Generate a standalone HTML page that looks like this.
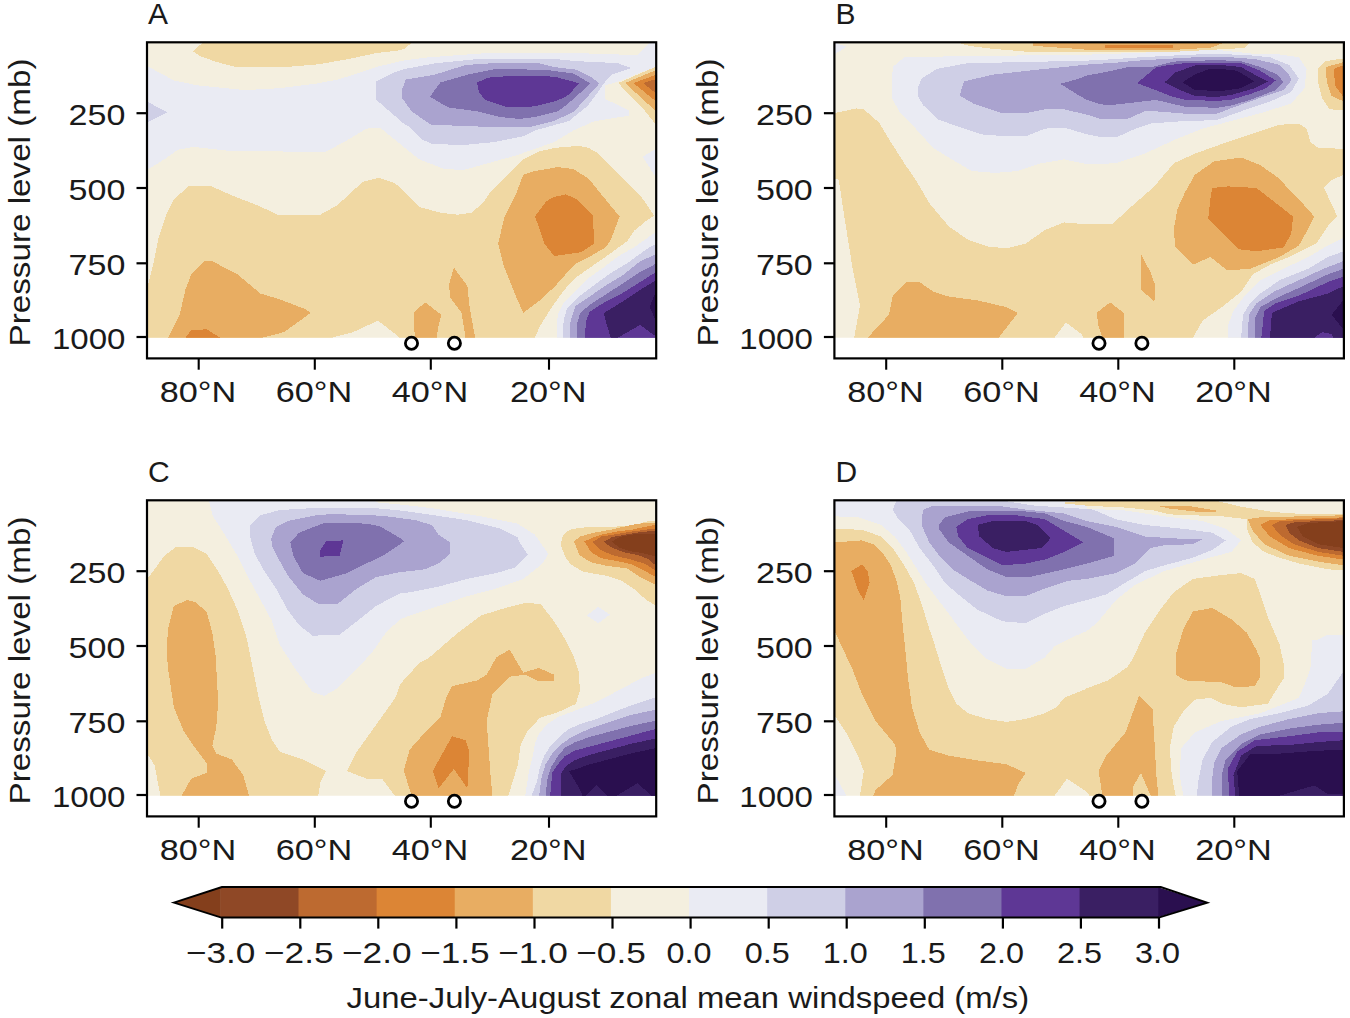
<!DOCTYPE html><html><head><meta charset="utf-8"><style>html,body{margin:0;padding:0;background:#fff;overflow:hidden}svg{display:block}svg text{font-family:"Liberation Sans",sans-serif}</style></head><body>
<svg width="1350" height="1018" viewBox="0 0 1350 1018">
<rect width="1350" height="1018" fill="#ffffff"/>
<clipPath id="cA"><rect x="147.0" y="42.3" width="509.2" height="295.4"/></clipPath>
<g clip-path="url(#cA)" shape-rendering="crispEdges">
<rect x="147.0" y="42.3" width="509.2" height="295.4" fill="#f4efdf"/>
<polygon fill="#eaebf3" points="147.0,66.0 173.9,80.4 197.0,85.3 245.2,90.1 279.8,88.2 318.3,83.3 337.6,79.5 356.9,73.7 376.1,67.0 405.0,60.2 428.9,57.3 480.9,53.5 563.7,52.5 597.1,53.8 637.0,55.1 645.0,48.0 650.0,42.3 656.2,42.3 656.2,67.5 642.5,71.6 619.1,81.3 605.4,85.4 605.4,99.1 628.8,110.2 628.8,115.7 594.4,121.2 573.3,130.5 554.1,142.1 515.6,155.6 480.9,165.2 463.6,170.0 444.3,169.0 419.3,159.4 405.0,147.9 395.4,140.2 380.0,127.6 366.5,128.6 347.2,140.2 326.0,151.7 295.2,151.7 227.8,150.7 193.2,146.9 177.7,149.8 164.3,159.4 147.0,170.0"/>
<polygon fill="#eaebf3" points="656.2,148.7 642.5,156.9 656.2,177.6"/>
<polygon fill="#cfcfe6" points="147.0,101.6 167.1,112.2 147.0,122.8"/>
<polygon fill="#cfcfe6" points="376.1,81.4 393.5,72.7 405.0,68.9 436.6,63.1 475.1,59.3 557.9,59.3 577.2,61.2 617.6,63.1 631.5,68.2 624.6,70.3 612.3,74.4 605.4,81.3 595.8,95.0 587.5,106.0 573.8,117.0 569.5,120.9 534.8,130.5 523.3,136.3 494.4,142.1 463.6,145.0 432.7,144.0 421.2,139.2 409.6,126.7 405.0,124.7 376.1,99.7"/>
<polygon fill="#aaa3cf" points="401.9,90.1 405.8,79.5 434.7,74.7 465.5,65.0 494.4,63.1 538.7,63.1 554.1,67.0 577.0,69.8 590.0,76.4 599.5,83.3 589.0,95.0 573.5,112.0 554.1,120.9 531.0,126.7 482.8,126.7 430.8,124.7 411.6,111.3 401.9,97.8"/>
<polygon fill="#8071ae" points="429.9,96.8 440.4,82.4 467.4,74.7 496.3,68.9 546.4,69.9 573.3,73.5 590.3,83.3 577.9,95.0 566.9,104.6 557.9,111.3 534.8,117.0 519.4,119.0 500.2,117.0 477.0,111.3 448.2,107.4"/>
<polygon fill="#5e3795" points="477.0,82.4 488.6,77.6 515.6,75.6 554.1,76.6 579.3,83.3 568.3,95.0 563.7,97.8 554.1,101.6 534.8,106.4 507.9,107.4 484.7,99.7 479.0,92.0"/>
<polygon fill="#f0d8a3" points="656.2,66.5 618.9,82.7 618.9,83.4 623.8,89.6 630.6,96.5 637.5,102.6 644.4,110.2 651.3,119.1 656.2,124.5"/>
<polygon fill="#e8ad62" points="656.2,70.0 625.1,83.0 656.2,111.5"/>
<polygon fill="#dc8535" points="656.2,74.8 633.4,83.0 656.2,101.6"/>
<polygon fill="#bd6a30" points="656.2,79.0 643.0,83.0 656.2,93.5"/>
<polygon fill="#f0d8a3" points="202.8,42.3 412.0,42.3 405.0,48.7 397.3,50.6 376.1,53.1 347.2,59.3 335.7,61.2 320.3,64.1 291.4,66.6 234.6,66.6 224.0,64.1 214.3,61.2 200.9,56.4 193.2,51.6"/>
<polygon fill="#f0d8a3" points="147.0,289.0 152.7,266.7 158.5,237.8 166.2,214.7 173.9,199.3 189.3,185.8 210.5,185.8 231.7,195.4 256.7,205.0 277.9,214.7 320.3,214.7 337.6,205.0 362.6,181.9 379.0,177.7 395.4,183.5 405.0,192.2 419.3,207.0 440.4,212.7 457.8,214.7 471.3,212.7 482.8,203.1 490.5,191.6 507.9,174.8 523.3,159.4 538.7,151.7 554.1,147.9 579.1,145.9 588.7,147.9 598.4,153.6 611.9,167.1 627.3,182.5 640.8,196.0 654.2,215.6 647.3,220.0 634.3,230.6 627.2,241.2 606.0,256.5 587.2,269.5 575.4,277.8 563.6,290.7 551.8,307.2 540.0,326.1 534.8,337.7 399.2,337.7 395.4,334.1 378.0,320.6 353.0,332.2 331.8,337.7 147.0,337.7"/>
<polygon fill="#e8ad62" points="515.6,195.0 523.3,174.8 534.8,171.0 557.9,167.1 573.3,169.0 588.7,178.7 602.2,195.4 619.6,216.6 610.7,240.0 606.0,247.1 591.9,255.4 575.4,263.6 563.6,276.6 555.3,286.0 540.0,300.2 523.3,312.9 515.6,295.6 504.0,266.7 498.2,243.6 504.0,218.5"/>
<polygon fill="#dc8535" points="534.8,216.6 546.4,201.2 554.1,197.0 565.6,194.4 577.2,199.3 592.6,214.7 594.5,243.6 581.0,252.2 554.1,256.1 544.5,243.6 538.7,226.2"/>
<polygon fill="#e8ad62" points="168.1,337.7 179.7,314.8 185.4,289.8 191.2,274.4 204.7,260.9 212.4,260.9 225.9,268.6 237.4,274.4 260.6,293.6 279.8,299.4 304.9,309.0 310.6,312.9 302.9,318.7 283.7,332.2 262.5,337.7"/>
<polygon fill="#dc8535" points="185.4,337.7 191.2,330.2 206.6,329.3 220.1,337.7"/>
<polygon fill="#e8ad62" points="413.5,312.9 425.0,302.3 441.4,314.8 438.5,326.4 436.6,337.7 415.4,337.7 413.5,326.4"/>
<polygon fill="#e8ad62" points="453.9,267.6 467.4,285.9 469.3,305.2 475.1,337.7 465.5,337.7 461.6,312.9 450.1,297.5 449.1,284.0"/>
<polygon fill="#eaebf3" points="656.2,231.8 646.1,238.9 634.3,247.1 617.8,256.5 602.5,268.3 587.2,278.9 575.4,290.7 563.6,302.5 557.7,314.3 556.5,337.7 656.2,337.7"/>
<polygon fill="#cfcfe6" points="656.2,243.6 646.1,249.5 628.4,262.4 610.7,273.0 593.0,286.0 578.9,296.6 567.1,308.4 563.6,320.2 563.0,337.7 656.2,337.7"/>
<polygon fill="#aaa3cf" points="656.2,254.2 640.2,261.3 622.5,275.4 604.8,286.0 589.5,296.6 575.4,306.1 570.6,320.2 569.5,337.7 656.2,337.7"/>
<polygon fill="#8071ae" points="656.2,263.6 640.2,271.9 622.5,283.7 606.0,294.3 589.5,304.9 580.1,313.1 576.5,326.1 576.5,337.7 656.2,337.7"/>
<polygon fill="#5e3795" points="656.2,271.9 641.4,281.3 622.5,293.1 606.0,301.3 589.5,311.9 586.0,321.4 584.8,337.7 656.2,337.7"/>
<polygon fill="#3a1f63" points="656.2,280.1 642.6,288.4 624.9,300.2 603.7,313.1 607.2,326.1 610.7,337.7 617.8,337.7 640.2,324.9 656.2,336.7"/>
<polygon fill="#2a0f4f" points="656.2,290.7 649.6,307.2 656.2,321.4"/>
</g>
<circle cx="411.5" cy="343.2" r="6.1" fill="none" stroke="#000" stroke-width="2.8"/>
<circle cx="454.4" cy="343.2" r="6.1" fill="none" stroke="#000" stroke-width="2.8"/>
<rect x="147.0" y="42.3" width="509.2" height="316.1" fill="none" stroke="#000" stroke-width="2.2"/>
<line x1="136.5" y1="113.2" x2="147.0" y2="113.2" stroke="#000" stroke-width="2.2"/>
<text x="125.4" y="125.1" text-anchor="end" font-size="30"  fill="#1a1a1a" textLength="56.8" lengthAdjust="spacingAndGlyphs">250</text>
<line x1="136.5" y1="188.0" x2="147.0" y2="188.0" stroke="#000" stroke-width="2.2"/>
<text x="125.4" y="199.9" text-anchor="end" font-size="30"  fill="#1a1a1a" textLength="56.8" lengthAdjust="spacingAndGlyphs">500</text>
<line x1="136.5" y1="263.3" x2="147.0" y2="263.3" stroke="#000" stroke-width="2.2"/>
<text x="125.4" y="275.2" text-anchor="end" font-size="30"  fill="#1a1a1a" textLength="56.8" lengthAdjust="spacingAndGlyphs">750</text>
<line x1="136.5" y1="337.0" x2="147.0" y2="337.0" stroke="#000" stroke-width="2.2"/>
<text x="125.4" y="348.9" text-anchor="end" font-size="30"  fill="#1a1a1a" textLength="73.5" lengthAdjust="spacingAndGlyphs">1000</text>
<line x1="198.7" y1="358.4" x2="198.7" y2="369.7" stroke="#000" stroke-width="2.1"/>
<text x="197.9" y="402.2" text-anchor="middle" font-size="30"  fill="#1a1a1a" textLength="76.5" lengthAdjust="spacingAndGlyphs">80°N</text>
<line x1="314.8" y1="358.4" x2="314.8" y2="369.7" stroke="#000" stroke-width="2.1"/>
<text x="314.0" y="402.2" text-anchor="middle" font-size="30"  fill="#1a1a1a" textLength="76.5" lengthAdjust="spacingAndGlyphs">60°N</text>
<line x1="430.8" y1="358.4" x2="430.8" y2="369.7" stroke="#000" stroke-width="2.1"/>
<text x="430.0" y="402.2" text-anchor="middle" font-size="30"  fill="#1a1a1a" textLength="76.5" lengthAdjust="spacingAndGlyphs">40°N</text>
<line x1="549.0" y1="358.4" x2="549.0" y2="369.7" stroke="#000" stroke-width="2.1"/>
<text x="548.2" y="402.2" text-anchor="middle" font-size="30"  fill="#1a1a1a" textLength="76.5" lengthAdjust="spacingAndGlyphs">20°N</text>
<text transform="translate(30.2,202.5) rotate(-90)" text-anchor="middle" font-size="30"  fill="#1a1a1a" textLength="288" lengthAdjust="spacingAndGlyphs">Pressure level (mb)</text>
<text x="148.0" y="24.3" font-size="30"  fill="#1a1a1a">A</text>
<clipPath id="cB"><rect x="834.4" y="42.3" width="509.5" height="295.4"/></clipPath>
<g clip-path="url(#cB)" shape-rendering="crispEdges">
<rect x="834.4" y="42.3" width="509.5" height="295.4" fill="#f4efdf"/>
<polygon fill="#eaebf3" points="834.4,42.3 846.5,46.7 834.4,54.4"/>
<polygon fill="#eaebf3" points="891.7,97.8 892.7,67.0 904.3,57.3 948.6,56.4 1025.6,55.4 1087.0,54.7 1141.0,52.8 1175.4,50.8 1217.0,49.8 1250.7,53.5 1279.6,54.4 1298.9,57.3 1306.6,68.9 1304.6,88.2 1291.2,103.6 1260.3,113.2 1231.5,120.9 1202.6,128.6 1173.7,140.2 1144.8,153.6 1115.9,163.3 1087.0,164.2 1064.1,159.4 1041.0,163.3 1017.9,171.0 994.8,172.9 971.7,171.0 948.6,157.5 933.2,147.9 913.9,126.7 900.4,113.2"/>
<polygon fill="#cfcfe6" points="917.7,88.2 921.6,78.5 937.0,68.9 967.8,63.1 1025.6,62.1 1060.3,61.2 1087.0,60.6 1113.5,59.2 1141.0,57.2 1190.2,54.7 1217.0,53.8 1250.7,55.4 1270.0,57.3 1289.2,65.0 1298.9,78.5 1291.2,92.0 1270.0,101.6 1241.1,111.3 1217.0,120.0 1175.4,121.6 1150.9,123.5 1136.1,128.4 1116.5,137.3 1101.7,137.3 1087.0,134.3 1064.1,127.6 1044.9,128.6 1025.6,136.3 1006.3,136.3 981.3,134.4 958.2,126.7 937.0,119.0 923.5,105.5 917.7,95.9"/>
<polygon fill="#aaa3cf" points="960.1,93.9 964.0,81.4 992.9,74.7 1017.9,71.8 1044.9,68.9 1064.1,67.0 1087.0,64.6 1116.5,62.6 1138.1,60.6 1160.7,59.2 1197.1,57.2 1217.0,56.7 1231.5,57.3 1256.5,59.3 1279.6,65.0 1289.2,74.7 1291.2,80.4 1283.5,90.1 1260.3,97.8 1233.4,107.4 1217.0,113.7 1185.3,113.7 1160.7,111.7 1146.0,110.7 1128.3,118.6 1099.8,118.6 1087.0,114.7 1064.1,109.3 1044.9,109.3 1025.6,113.2 1002.5,113.2 973.6,103.6 960.1,95.9"/>
<polygon fill="#8071ae" points="1060.3,83.8 1079.5,78.5 1087.0,75.4 1106.7,71.9 1126.3,67.5 1153.8,66.5 1173.5,61.6 1217.0,60.1 1241.1,61.2 1260.3,67.0 1277.7,74.7 1283.5,82.4 1275.7,90.1 1250.7,99.7 1231.5,105.5 1217.0,107.8 1185.3,106.8 1155.8,99.9 1130.2,102.9 1109.6,105.3 1098.8,103.9 1087.0,99.9 1079.5,95.9"/>
<polygon fill="#5e3795" points="1137.1,83.2 1155.8,67.5 1165.6,65.5 1185.3,63.1 1217.0,62.6 1241.1,63.1 1260.3,70.8 1275.7,80.4 1266.1,88.2 1250.7,93.9 1231.5,99.7 1217.0,100.9 1185.3,99.9 1170.5,96.0 1155.8,90.1"/>
<polygon fill="#3a1f63" points="1164.6,82.3 1175.4,72.4 1195.1,65.5 1217.0,64.6 1241.1,67.0 1254.6,74.7 1268.0,81.4 1254.6,88.2 1231.5,94.9 1217.0,97.0 1195.1,96.0 1180.3,90.1"/>
<polygon fill="#2a0f4f" points="1182.3,82.3 1195.1,74.4 1207.9,69.5 1217.0,68.5 1237.2,70.8 1254.6,81.4 1241.1,88.2 1221.8,91.0 1195.1,90.1"/>
<polygon fill="#f0d8a3" points="956.0,42.3 1250.0,42.3 1244.6,48.0 1217.0,49.5 1175.0,51.8 1087.0,51.8 1025.6,51.6 991.0,48.7 970.0,46.0"/>
<polygon fill="#e8ad62" points="1033.3,42.3 1225.7,42.3 1210.3,47.7 1175.0,49.8 1087.0,49.8 1081.5,49.2 1033.3,45.8"/>
<polygon fill="#dc8535" points="1104.7,45.3 1172.5,45.3 1172.5,48.0 1104.7,48.0"/>
<polygon fill="#f0d8a3" points="1318.1,68.9 1325.8,61.2 1343.9,58.3 1343.9,110.3 1329.7,109.3 1322.0,97.8 1318.1,82.4"/>
<polygon fill="#e8ad62" points="1325.8,67.0 1343.9,62.1 1343.9,101.6 1331.6,95.9 1326.8,82.4"/>
<polygon fill="#dc8535" points="1333.5,68.9 1343.9,65.0 1343.9,97.8 1335.5,86.2"/>
<polygon fill="#f0d8a3" points="834.4,113.2 856.1,108.4 863.8,109.3 879.2,122.8 890.8,142.1 904.3,163.3 915.8,180.0 929.3,203.1 948.6,226.2 967.8,239.7 987.1,246.4 1006.3,248.4 1025.6,243.6 1044.9,230.1 1064.1,222.4 1087.0,224.3 1112.0,224.3 1135.2,203.1 1139.0,199.9 1154.4,186.4 1173.7,163.3 1194.9,153.6 1221.8,144.0 1250.7,134.4 1279.6,124.7 1298.9,123.8 1306.6,128.6 1310.4,142.1 1318.1,147.9 1343.9,148.8 1343.9,174.8 1331.6,180.0 1323.9,187.7 1337.4,216.6 1327.8,226.2 1316.2,243.6 1289.2,257.0 1270.0,264.7 1252.6,274.4 1241.1,291.7 1221.8,307.1 1202.6,320.6 1193.0,337.7 1083.4,337.7 1081.5,334.1 1066.0,322.5 1054.5,337.7 854.2,337.7 860.0,305.2 852.3,266.7 844.6,218.5 838.8,180.0 834.4,178.0"/>
<polygon fill="#e8ad62" points="867.7,337.7 888.9,314.8 892.7,295.6 906.2,282.1 919.7,282.1 933.2,291.7 948.6,296.5 977.5,300.4 1006.3,307.1 1017.9,312.9 998.6,337.7"/>
<polygon fill="#e8ad62" points="1194.9,174.8 1214.1,161.3 1241.1,157.5 1260.3,165.2 1279.6,178.7 1291.2,192.2 1298.9,199.3 1314.3,216.6 1308.5,228.2 1298.9,245.5 1279.6,257.0 1250.7,268.6 1227.6,270.5 1210.3,257.0 1192.9,264.7 1175.6,247.4 1173.7,230.1 1177.5,208.9 1185.2,192.0"/>
<polygon fill="#dc8535" points="1212.2,188.0 1227.6,186.4 1256.5,188.0 1271.9,199.9 1293.1,216.6 1291.2,233.9 1283.5,247.4 1256.5,251.3 1239.2,249.3 1225.7,235.9 1208.3,218.5 1210.3,199.3"/>
<polygon fill="#e8ad62" points="1096.6,312.9 1110.1,302.3 1123.6,312.9 1123.6,337.7 1102.4,337.7 1098.6,326.4"/>
<polygon fill="#e8ad62" points="1140.9,254.2 1150.6,272.4 1155.4,285.9 1154.4,301.3 1140.9,289.8 1140.9,272.4"/>
<polygon fill="#eaebf3" points="1343.9,237.8 1327.8,245.5 1308.5,257.0 1279.6,270.5 1260.3,280.2 1244.9,295.6 1233.4,311.0 1227.6,326.4 1227.6,337.7 1343.9,337.7"/>
<polygon fill="#cfcfe6" points="1343.9,251.3 1327.8,257.0 1308.5,268.6 1279.6,280.2 1260.3,293.6 1248.8,305.2 1243.0,314.8 1241.1,337.7 1343.9,337.7"/>
<polygon fill="#aaa3cf" points="1343.9,260.9 1323.9,268.6 1298.9,280.2 1273.8,291.7 1256.5,303.3 1248.8,314.8 1247.8,337.7 1343.9,337.7"/>
<polygon fill="#8071ae" points="1343.9,268.6 1327.8,274.4 1298.9,287.9 1277.7,297.5 1260.3,307.1 1254.6,318.7 1254.6,337.7 1343.9,337.7"/>
<polygon fill="#5e3795" points="1343.9,276.3 1327.8,282.1 1298.9,295.6 1275.8,303.3 1264.2,311.0 1261.3,337.7 1343.9,337.7"/>
<polygon fill="#3a1f63" points="1343.9,285.9 1327.8,293.6 1298.9,301.3 1271.9,312.9 1270.0,337.7 1314.3,337.7 1322.0,332.2 1331.6,334.1 1333.5,337.7 1343.9,337.7"/>
<polygon fill="#2a0f4f" points="1343.9,299.4 1331.6,314.8 1343.9,330.2"/>
</g>
<circle cx="1099.0" cy="343.2" r="6.1" fill="none" stroke="#000" stroke-width="2.8"/>
<circle cx="1141.9" cy="343.2" r="6.1" fill="none" stroke="#000" stroke-width="2.8"/>
<rect x="834.4" y="42.3" width="509.5" height="316.1" fill="none" stroke="#000" stroke-width="2.2"/>
<line x1="823.9" y1="113.2" x2="834.4" y2="113.2" stroke="#000" stroke-width="2.2"/>
<text x="812.8" y="125.1" text-anchor="end" font-size="30"  fill="#1a1a1a" textLength="56.8" lengthAdjust="spacingAndGlyphs">250</text>
<line x1="823.9" y1="188.0" x2="834.4" y2="188.0" stroke="#000" stroke-width="2.2"/>
<text x="812.8" y="199.9" text-anchor="end" font-size="30"  fill="#1a1a1a" textLength="56.8" lengthAdjust="spacingAndGlyphs">500</text>
<line x1="823.9" y1="263.3" x2="834.4" y2="263.3" stroke="#000" stroke-width="2.2"/>
<text x="812.8" y="275.2" text-anchor="end" font-size="30"  fill="#1a1a1a" textLength="56.8" lengthAdjust="spacingAndGlyphs">750</text>
<line x1="823.9" y1="337.0" x2="834.4" y2="337.0" stroke="#000" stroke-width="2.2"/>
<text x="812.8" y="348.9" text-anchor="end" font-size="30"  fill="#1a1a1a" textLength="73.5" lengthAdjust="spacingAndGlyphs">1000</text>
<line x1="886.2" y1="358.4" x2="886.2" y2="369.7" stroke="#000" stroke-width="2.1"/>
<text x="885.4" y="402.2" text-anchor="middle" font-size="30"  fill="#1a1a1a" textLength="76.5" lengthAdjust="spacingAndGlyphs">80°N</text>
<line x1="1002.3" y1="358.4" x2="1002.3" y2="369.7" stroke="#000" stroke-width="2.1"/>
<text x="1001.5" y="402.2" text-anchor="middle" font-size="30"  fill="#1a1a1a" textLength="76.5" lengthAdjust="spacingAndGlyphs">60°N</text>
<line x1="1118.3" y1="358.4" x2="1118.3" y2="369.7" stroke="#000" stroke-width="2.1"/>
<text x="1117.5" y="402.2" text-anchor="middle" font-size="30"  fill="#1a1a1a" textLength="76.5" lengthAdjust="spacingAndGlyphs">40°N</text>
<line x1="1234.3" y1="358.4" x2="1234.3" y2="369.7" stroke="#000" stroke-width="2.1"/>
<text x="1233.5" y="402.2" text-anchor="middle" font-size="30"  fill="#1a1a1a" textLength="76.5" lengthAdjust="spacingAndGlyphs">20°N</text>
<text transform="translate(717.7,202.5) rotate(-90)" text-anchor="middle" font-size="30"  fill="#1a1a1a" textLength="288" lengthAdjust="spacingAndGlyphs">Pressure level (mb)</text>
<text x="835.5" y="24.3" font-size="30"  fill="#1a1a1a">B</text>
<clipPath id="cC"><rect x="147.0" y="500.3" width="509.2" height="295.4"/></clipPath>
<g clip-path="url(#cC)" shape-rendering="crispEdges">
<rect x="147.0" y="500.3" width="509.2" height="295.4" fill="#f4efdf"/>
<polygon fill="#eaebf3" points="209.0,500.3 376.0,500.3 376.0,502.3 403.3,504.8 432.2,508.2 483.3,516.7 517.4,523.6 534.8,534.6 548.3,553.9 542.5,563.5 523.3,578.9 496.3,588.5 467.4,596.2 438.5,605.9 409.6,615.5 400.0,619.3 385.8,632.8 372.3,652.1 356.9,668.9 337.6,688.2 324.1,695.9 312.6,692.0 295.2,668.9 280.0,645.0 272.1,621.3 260.6,600.1 249.0,578.9 237.4,555.8 225.9,536.5 212.4,515.3"/>
<polygon fill="#cfcfe6" points="250.0,525.0 260.6,515.3 277.9,510.5 299.1,508.6 330.0,508.2 376.0,508.2 403.3,510.8 432.2,515.0 466.3,520.1 500.4,528.7 517.4,537.2 519.4,542.3 528.1,554.8 515.6,567.3 496.3,573.1 467.4,578.9 438.5,586.6 409.6,592.4 400.0,593.3 376.1,605.9 356.9,621.3 339.5,634.7 312.6,635.7 299.1,625.1 287.5,609.7 276.0,588.5 264.4,571.2 254.8,553.9 250.0,536.5"/>
<polygon fill="#aaa3cf" points="271.2,538.4 276.0,526.9 287.5,521.1 316.4,515.3 330.0,514.2 370.9,515.0 389.6,516.7 415.2,520.1 425.0,523.0 432.2,525.3 438.5,534.6 450.1,542.3 450.1,553.9 438.5,563.5 425.0,569.3 400.0,572.2 376.1,577.0 356.9,588.5 337.6,603.9 318.3,603.9 302.9,594.3 287.5,575.0 277.9,557.7 272.1,546.2"/>
<polygon fill="#8071ae" points="290.4,542.3 299.1,532.7 324.1,523.0 330.0,522.7 365.8,523.6 379.4,526.1 401.6,538.9 403.9,541.3 400.0,544.2 385.8,553.9 366.5,563.5 347.2,573.1 320.3,580.8 302.9,573.1 293.3,555.8"/>
<polygon fill="#5e3795" points="320.3,550.0 326.0,541.3 343.4,540.4 339.5,555.8 320.3,556.7"/>
<polygon fill="#eaebf3" points="586.8,615.5 598.4,606.8 609.9,614.5 598.4,623.2"/>
<polygon fill="#f0d8a3" points="561.1,543.1 563.0,535.0 569.6,529.8 580.7,527.6 630.4,526.1 647.4,521.3 656.2,520.9 656.2,605.9 646.5,600.1 634.1,589.1 620.7,580.2 605.9,575.7 593.3,573.5 582.2,571.3 571.1,564.6 565.9,558.0 561.1,546.1"/>
<polygon fill="#e8ad62" points="574.1,541.5 580.0,536.5 593.3,532.8 610.4,529.8 636.3,523.9 656.2,522.4 656.2,586.6 654.8,584.6 641.5,578.0 626.7,568.3 608.1,566.1 591.1,562.4 579.3,555.0"/>
<polygon fill="#dc8535" points="584.4,541.5 593.3,537.2 603.0,534.3 615.6,531.7 631.1,529.8 656.2,524.6 656.2,577.0 645.2,571.3 630.4,563.9 615.6,560.9 600.7,558.0 591.1,552.0"/>
<polygon fill="#bd6a30" points="593.3,541.5 601.5,536.5 615.6,534.3 631.1,531.7 656.2,528.3 656.2,571.0 645.2,563.9 630.4,559.4 611.9,555.0 600.7,549.8 593.3,543.1"/>
<polygon fill="#8f4826" points="604.4,541.5 611.9,537.2 626.7,534.3 641.5,532.0 656.2,530.6 656.2,566.0 648.9,559.4 637.8,555.0 623.0,552.0 611.9,547.6 604.4,542.4"/>
<polygon fill="#843f1c" points="611.9,541.7 619.3,537.2 630.4,534.6 656.2,533.5 656.2,556.5 641.5,552.8 630.4,551.3 619.3,547.6"/>
<polygon fill="#f0d8a3" points="147.0,577.0 148.9,577.0 164.3,555.8 175.8,547.1 193.2,547.1 206.6,553.9 218.2,571.2 227.8,588.5 237.4,609.7 245.2,632.8 247.1,640.0 252.9,668.9 258.6,697.8 264.4,720.9 272.1,740.2 279.8,751.7 302.9,759.4 326.0,771.0 320.3,782.5 318.3,795.7 160.4,795.7 154.6,765.2 147.0,753.6"/>
<polygon fill="#e8ad62" points="168.1,629.0 173.9,605.9 187.4,600.1 195.1,602.0 206.6,611.6 212.4,632.8 215.5,655.0 216.3,668.9 218.2,701.6 216.3,726.7 212.4,745.9 216.3,753.6 231.7,759.4 243.2,774.8 249.0,795.7 181.6,795.7 191.2,778.7 206.6,772.9 206.6,763.3 195.1,747.9 183.5,730.5 173.9,707.4 168.1,668.9 166.5,650.0"/>
<polygon fill="#f0d8a3" points="400.0,684.3 419.3,663.1 428.9,657.9 457.8,632.8 480.9,615.5 505.9,607.8 525.2,603.0 540.6,603.9 554.1,621.3 565.6,640.0 573.3,655.4 579.1,672.7 579.8,691.6 575.7,704.0 557.8,712.3 539.9,717.8 527.5,731.5 520.6,745.3 517.9,764.5 508.3,795.7 395.0,795.7 393.5,794.1 381.9,778.7 366.5,778.7 347.2,771.0 356.9,751.7 376.1,724.7 395.4,697.8"/>
<polygon fill="#e8ad62" points="405.8,763.3 409.6,749.8 425.0,732.4 440.4,717.0 446.2,697.8 452.0,686.2 477.0,680.4 486.7,674.7 496.3,657.3 509.8,649.6 517.5,663.1 523.3,672.7 538.7,667.9 554.1,674.7 554.1,681.4 538.7,681.4 525.2,674.7 509.8,676.6 492.4,693.9 486.7,720.9 490.5,774.8 492.4,795.7 411.6,795.7 403.9,771.0"/>
<polygon fill="#dc8535" points="432.7,771.0 452.0,736.3 465.5,740.2 469.3,751.7 467.4,788.3 453.9,769.0 438.5,788.3"/>
<polygon fill="#eaebf3" points="656.2,672.7 640.8,678.5 611.9,693.9 592.6,703.6 573.3,711.3 557.9,717.0 546.4,724.7 538.7,734.4 534.8,744.0 532.9,755.6 529.0,771.0 525.2,795.7 656.2,795.7"/>
<polygon fill="#cfcfe6" points="656.2,697.1 623.8,708.1 596.3,719.1 582.5,723.3 568.8,728.8 559.1,737.0 550.9,745.3 544.0,756.3 539.9,767.3 537.1,781.0 531.6,795.7 656.2,795.7"/>
<polygon fill="#aaa3cf" points="656.2,709.5 630.7,715.0 610.0,721.9 589.4,728.8 571.5,737.0 561.9,743.9 552.3,753.5 545.4,764.5 541.3,778.3 539.2,795.7 656.2,795.7"/>
<polygon fill="#8071ae" points="656.2,720.5 630.7,726.0 610.0,731.5 589.4,737.0 574.3,742.5 564.6,748.0 557.8,756.3 550.9,767.3 546.8,781.0 546.1,795.7 656.2,795.7"/>
<polygon fill="#5e3795" points="656.2,728.8 630.7,735.7 610.0,741.2 589.4,746.7 574.3,750.8 564.6,756.3 557.8,764.5 552.3,772.8 550.2,795.7 656.2,795.7"/>
<polygon fill="#3a1f63" points="656.2,738.4 630.7,743.9 610.0,749.4 589.4,754.9 574.3,760.4 566.0,765.9 560.5,774.2 560.5,795.7 656.2,795.7"/>
<polygon fill="#2a0f4f" points="656.2,748.0 630.7,753.5 610.0,759.0 589.4,764.5 577.0,768.7 568.8,771.4 574.3,779.7 581.2,792.0 582.5,795.7 586.0,795.7 596.3,785.2 607.3,795.7 616.9,795.7 637.6,783.1 651.3,795.7 656.2,795.7"/>
</g>
<circle cx="411.5" cy="801.2" r="6.1" fill="none" stroke="#000" stroke-width="2.8"/>
<circle cx="454.4" cy="801.2" r="6.1" fill="none" stroke="#000" stroke-width="2.8"/>
<rect x="147.0" y="500.3" width="509.2" height="316.1" fill="none" stroke="#000" stroke-width="2.2"/>
<line x1="136.5" y1="571.2" x2="147.0" y2="571.2" stroke="#000" stroke-width="2.2"/>
<text x="125.4" y="583.1" text-anchor="end" font-size="30"  fill="#1a1a1a" textLength="56.8" lengthAdjust="spacingAndGlyphs">250</text>
<line x1="136.5" y1="646.0" x2="147.0" y2="646.0" stroke="#000" stroke-width="2.2"/>
<text x="125.4" y="657.9" text-anchor="end" font-size="30"  fill="#1a1a1a" textLength="56.8" lengthAdjust="spacingAndGlyphs">500</text>
<line x1="136.5" y1="721.3" x2="147.0" y2="721.3" stroke="#000" stroke-width="2.2"/>
<text x="125.4" y="733.2" text-anchor="end" font-size="30"  fill="#1a1a1a" textLength="56.8" lengthAdjust="spacingAndGlyphs">750</text>
<line x1="136.5" y1="795.0" x2="147.0" y2="795.0" stroke="#000" stroke-width="2.2"/>
<text x="125.4" y="806.9" text-anchor="end" font-size="30"  fill="#1a1a1a" textLength="73.5" lengthAdjust="spacingAndGlyphs">1000</text>
<line x1="198.7" y1="816.4" x2="198.7" y2="827.7" stroke="#000" stroke-width="2.1"/>
<text x="197.9" y="860.2" text-anchor="middle" font-size="30"  fill="#1a1a1a" textLength="76.5" lengthAdjust="spacingAndGlyphs">80°N</text>
<line x1="314.8" y1="816.4" x2="314.8" y2="827.7" stroke="#000" stroke-width="2.1"/>
<text x="314.0" y="860.2" text-anchor="middle" font-size="30"  fill="#1a1a1a" textLength="76.5" lengthAdjust="spacingAndGlyphs">60°N</text>
<line x1="430.8" y1="816.4" x2="430.8" y2="827.7" stroke="#000" stroke-width="2.1"/>
<text x="430.0" y="860.2" text-anchor="middle" font-size="30"  fill="#1a1a1a" textLength="76.5" lengthAdjust="spacingAndGlyphs">40°N</text>
<line x1="549.0" y1="816.4" x2="549.0" y2="827.7" stroke="#000" stroke-width="2.1"/>
<text x="548.2" y="860.2" text-anchor="middle" font-size="30"  fill="#1a1a1a" textLength="76.5" lengthAdjust="spacingAndGlyphs">20°N</text>
<text transform="translate(30.2,660.5) rotate(-90)" text-anchor="middle" font-size="30"  fill="#1a1a1a" textLength="288" lengthAdjust="spacingAndGlyphs">Pressure level (mb)</text>
<text x="148.0" y="482.3" font-size="30"  fill="#1a1a1a">C</text>
<clipPath id="cD"><rect x="834.4" y="500.3" width="509.5" height="295.4"/></clipPath>
<g clip-path="url(#cD)" shape-rendering="crispEdges">
<rect x="834.4" y="500.3" width="509.5" height="295.4" fill="#f4efdf"/>
<polygon fill="#eaebf3" points="834.4,500.3 1087.0,500.3 1087.0,508.6 1125.5,510.5 1164.0,516.3 1202.6,521.1 1225.7,528.8 1241.1,540.4 1231.5,551.9 1202.6,559.6 1164.0,571.2 1135.2,584.7 1115.9,600.1 1096.6,623.2 1087.0,630.9 1073.8,636.7 1054.5,646.3 1044.9,657.3 1025.6,668.9 1006.3,668.9 987.1,659.3 971.7,644.4 960.1,629.0 948.6,613.6 937.0,598.2 925.4,582.7 915.8,567.3 906.2,551.9 894.6,536.5 881.2,525.0 858.0,517.3 834.4,516.3"/>
<polygon fill="#cfcfe6" points="892.7,509.6 896.6,500.3 1000.0,500.3 1035.2,505.7 1087.0,509.0 1093.0,509.6 1115.9,519.2 1144.8,525.0 1183.3,528.8 1212.2,532.7 1225.7,540.4 1212.2,550.0 1192.9,557.7 1164.0,565.4 1144.8,571.2 1125.5,582.7 1106.3,594.3 1087.0,600.1 1064.1,605.9 1044.9,613.6 1025.6,623.2 1002.5,621.3 977.5,609.7 958.2,594.3 944.7,582.7 933.2,565.4 919.7,548.1 910.0,530.7 898.5,519.2"/>
<polygon fill="#aaa3cf" points="921.6,517.3 923.5,509.6 933.2,505.7 996.7,505.7 1025.6,509.6 1064.1,513.4 1087.0,521.1 1115.9,526.9 1144.8,536.5 1173.7,538.4 1202.6,539.4 1192.9,544.2 1164.0,545.2 1150.6,548.1 1135.2,563.5 1115.9,573.1 1087.0,578.9 1068.0,580.8 1044.9,588.5 1025.6,596.2 1006.3,596.2 987.1,590.4 967.8,578.9 952.4,569.3 940.9,557.7 929.3,542.3 921.6,525.0"/>
<polygon fill="#8071ae" points="938.9,525.0 944.7,517.3 967.8,511.5 1016.0,510.5 1044.9,513.4 1064.1,521.1 1087.0,526.9 1114.0,538.4 1114.0,555.8 1087.0,563.5 1064.1,569.3 1029.5,577.0 1006.3,577.0 987.1,569.3 967.8,555.8 948.6,542.3 938.9,528.8"/>
<polygon fill="#5e3795" points="956.3,526.9 967.8,519.2 987.1,515.3 1016.0,515.3 1044.9,519.2 1064.1,530.7 1083.4,542.3 1064.1,551.9 1044.9,559.6 1025.6,563.5 1002.5,565.4 987.1,557.7 967.8,548.1 958.2,536.5"/>
<polygon fill="#3a1f63" points="977.5,525.0 992.9,521.1 1025.6,521.1 1037.2,525.0 1050.6,538.4 1041.0,548.1 1006.3,551.9 992.9,548.1 979.4,536.5"/>
<polygon fill="#f0d8a3" points="1087.0,500.3 1214.1,500.3 1241.1,506.7 1270.0,511.5 1289.2,513.4 1343.9,514.4 1343.9,570.2 1327.8,569.3 1298.9,563.5 1279.6,557.7 1264.2,551.9 1252.6,542.3 1246.9,528.8 1246.9,519.2 1221.8,516.3 1192.9,515.3 1169.8,514.4 1154.4,510.5 1125.5,507.6 1087.0,505.7 1060.0,503.0"/>
<polygon fill="#e8ad62" points="1156.3,505.7 1187.2,505.7 1216.0,510.5 1216.0,512.4 1194.9,511.5 1169.8,508.6"/>
<polygon fill="#e8ad62" points="1247.8,519.2 1260.3,517.3 1343.9,515.3 1343.9,565.4 1318.1,561.6 1289.2,555.8 1264.2,544.2 1252.6,530.7"/>
<polygon fill="#dc8535" points="1260.3,525.0 1270.0,520.1 1343.9,517.3 1343.9,559.6 1318.1,555.8 1289.2,548.1 1270.0,536.5"/>
<polygon fill="#bd6a30" points="1271.9,525.0 1279.6,521.1 1343.9,518.2 1343.9,555.8 1318.1,551.9 1294.0,544.2 1279.6,534.6"/>
<polygon fill="#8f4826" points="1285.4,525.0 1295.0,522.1 1343.9,520.1 1343.9,551.9 1318.1,548.1 1298.9,540.4 1289.2,532.7"/>
<polygon fill="#843f1c" points="1297.0,526.9 1308.5,523.0 1343.9,521.1 1343.9,548.1 1318.1,544.2 1302.7,536.5"/>
<polygon fill="#f0d8a3" points="834.4,528.8 836.9,528.8 861.9,529.8 881.2,536.5 892.7,548.1 904.3,565.4 913.9,582.7 921.6,603.9 929.3,629.0 933.2,640.0 940.9,665.0 948.6,688.2 956.3,703.6 967.8,713.2 987.1,719.0 1006.3,721.9 1025.6,719.0 1044.9,713.2 1056.4,707.4 1064.1,697.8 1083.4,690.1 1087.0,688.2 1108.2,680.4 1127.4,667.0 1133.2,657.9 1144.8,632.8 1160.2,609.7 1173.7,592.4 1192.9,578.9 1221.8,575.0 1241.1,573.1 1254.6,578.9 1260.3,594.3 1268.0,617.4 1279.6,644.4 1283.5,663.1 1283.5,678.5 1273.8,693.9 1268.0,703.6 1241.1,707.4 1221.8,703.6 1210.3,697.8 1194.9,699.7 1183.3,711.3 1173.7,726.7 1169.8,747.9 1171.7,774.8 1175.6,795.7 1089.2,795.7 1087.2,792.2 1067.0,778.7 1054.5,795.7 860.0,795.7 863.8,771.0 858.0,755.6 848.4,736.3 834.4,715.1"/>
<polygon fill="#e8ad62" points="834.4,542.3 836.9,542.3 861.9,540.4 873.4,544.2 883.1,553.9 890.8,565.4 896.6,580.8 900.4,598.2 902.3,621.3 904.3,640.0 908.1,678.5 912.0,707.4 919.7,732.4 929.3,749.8 948.6,755.6 977.5,760.4 1006.3,764.2 1025.6,772.9 1017.9,784.5 1014.1,795.7 873.4,795.7 875.4,790.2 892.7,774.8 896.6,749.8 894.6,744.0 875.4,720.9 861.9,693.9 852.3,668.9 838.8,640.0 834.4,630.0"/>
<polygon fill="#eaebf3" points="834.4,774.2 846.5,795.7 834.4,795.7"/>
<polygon fill="#dc8535" points="851.3,571.2 861.9,564.4 867.7,571.2 869.6,582.7 863.8,600.1 858.0,590.4 854.2,578.9"/>
<polygon fill="#e8ad62" points="1183.3,629.0 1192.9,611.6 1212.2,607.8 1231.5,619.3 1246.9,632.8 1256.5,650.2 1260.3,659.3 1260.3,676.6 1254.6,686.2 1235.3,687.2 1221.8,682.4 1185.2,680.4 1175.6,674.7 1175.6,655.4"/>
<polygon fill="#e8ad62" points="1098.6,771.0 1106.3,755.6 1125.5,732.4 1139.0,695.9 1152.5,709.3 1154.4,740.2 1156.3,774.8 1158.3,795.7 1150.6,795.7 1140.9,772.9 1133.2,786.4 1133.2,795.7 1102.4,795.7"/>
<polygon fill="#eaebf3" points="1312.3,640.0 1316.2,640.5 1327.8,634.7 1343.9,634.7 1343.9,795.7 1183.3,795.7 1179.5,774.8 1181.4,747.9 1194.9,732.4 1221.8,720.9 1260.3,713.2 1298.9,697.8 1304.6,684.3 1310.4,668.9"/>
<polygon fill="#cfcfe6" points="1343.9,670.8 1327.8,693.9 1308.5,705.5 1279.6,713.2 1250.7,719.0 1231.5,726.7 1212.2,742.1 1202.6,759.4 1198.7,778.7 1196.8,795.7 1343.9,795.7"/>
<polygon fill="#aaa3cf" points="1343.9,711.3 1318.1,713.2 1289.2,719.0 1260.3,726.7 1241.1,734.4 1221.8,747.9 1214.1,763.3 1212.2,778.7 1212.2,795.7 1343.9,795.7"/>
<polygon fill="#8071ae" points="1343.9,722.8 1318.1,724.7 1289.2,728.6 1260.3,734.4 1241.1,744.0 1225.7,759.4 1221.8,774.8 1221.8,795.7 1343.9,795.7"/>
<polygon fill="#5e3795" points="1343.9,731.5 1318.1,732.4 1289.2,736.3 1254.6,740.2 1237.2,751.7 1227.6,769.0 1229.5,795.7 1343.9,795.7"/>
<polygon fill="#3a1f63" points="1343.9,740.2 1318.1,742.1 1289.2,745.0 1256.5,745.9 1241.1,755.6 1233.4,774.8 1235.3,795.7 1343.9,795.7"/>
<polygon fill="#2a0f4f" points="1343.9,749.8 1318.1,750.7 1279.6,753.6 1250.7,753.6 1237.2,771.0 1239.2,795.7 1279.6,795.7 1314.3,785.4 1327.8,794.1 1343.9,794.0"/>
</g>
<circle cx="1099.0" cy="801.2" r="6.1" fill="none" stroke="#000" stroke-width="2.8"/>
<circle cx="1141.9" cy="801.2" r="6.1" fill="none" stroke="#000" stroke-width="2.8"/>
<rect x="834.4" y="500.3" width="509.5" height="316.1" fill="none" stroke="#000" stroke-width="2.2"/>
<line x1="823.9" y1="571.2" x2="834.4" y2="571.2" stroke="#000" stroke-width="2.2"/>
<text x="812.8" y="583.1" text-anchor="end" font-size="30"  fill="#1a1a1a" textLength="56.8" lengthAdjust="spacingAndGlyphs">250</text>
<line x1="823.9" y1="646.0" x2="834.4" y2="646.0" stroke="#000" stroke-width="2.2"/>
<text x="812.8" y="657.9" text-anchor="end" font-size="30"  fill="#1a1a1a" textLength="56.8" lengthAdjust="spacingAndGlyphs">500</text>
<line x1="823.9" y1="721.3" x2="834.4" y2="721.3" stroke="#000" stroke-width="2.2"/>
<text x="812.8" y="733.2" text-anchor="end" font-size="30"  fill="#1a1a1a" textLength="56.8" lengthAdjust="spacingAndGlyphs">750</text>
<line x1="823.9" y1="795.0" x2="834.4" y2="795.0" stroke="#000" stroke-width="2.2"/>
<text x="812.8" y="806.9" text-anchor="end" font-size="30"  fill="#1a1a1a" textLength="73.5" lengthAdjust="spacingAndGlyphs">1000</text>
<line x1="886.2" y1="816.4" x2="886.2" y2="827.7" stroke="#000" stroke-width="2.1"/>
<text x="885.4" y="860.2" text-anchor="middle" font-size="30"  fill="#1a1a1a" textLength="76.5" lengthAdjust="spacingAndGlyphs">80°N</text>
<line x1="1002.3" y1="816.4" x2="1002.3" y2="827.7" stroke="#000" stroke-width="2.1"/>
<text x="1001.5" y="860.2" text-anchor="middle" font-size="30"  fill="#1a1a1a" textLength="76.5" lengthAdjust="spacingAndGlyphs">60°N</text>
<line x1="1118.3" y1="816.4" x2="1118.3" y2="827.7" stroke="#000" stroke-width="2.1"/>
<text x="1117.5" y="860.2" text-anchor="middle" font-size="30"  fill="#1a1a1a" textLength="76.5" lengthAdjust="spacingAndGlyphs">40°N</text>
<line x1="1234.3" y1="816.4" x2="1234.3" y2="827.7" stroke="#000" stroke-width="2.1"/>
<text x="1233.5" y="860.2" text-anchor="middle" font-size="30"  fill="#1a1a1a" textLength="76.5" lengthAdjust="spacingAndGlyphs">20°N</text>
<text transform="translate(717.7,660.5) rotate(-90)" text-anchor="middle" font-size="30"  fill="#1a1a1a" textLength="288" lengthAdjust="spacingAndGlyphs">Pressure level (mb)</text>
<text x="835.5" y="482.3" font-size="30"  fill="#1a1a1a">D</text>
<polygon fill="#843f1c" points="173.9,902.6 220.9,887.1 220.9,917.6"/>
<polygon fill="#2a0f4f" points="1207.1,902.6 1157.2,887.1 1157.2,917.6"/>
<rect x="220.40" y="887.1" width="78.71" height="30.5" fill="#8f4826"/>
<rect x="298.51" y="887.1" width="78.71" height="30.5" fill="#bd6a30"/>
<rect x="376.62" y="887.1" width="78.71" height="30.5" fill="#dc8535"/>
<rect x="454.73" y="887.1" width="78.71" height="30.5" fill="#e8ad62"/>
<rect x="532.83" y="887.1" width="78.71" height="30.5" fill="#f0d8a3"/>
<rect x="610.94" y="887.1" width="78.71" height="30.5" fill="#f4efdf"/>
<rect x="689.05" y="887.1" width="78.71" height="30.5" fill="#eaebf3"/>
<rect x="767.16" y="887.1" width="78.71" height="30.5" fill="#cfcfe6"/>
<rect x="845.27" y="887.1" width="78.71" height="30.5" fill="#aaa3cf"/>
<rect x="923.38" y="887.1" width="78.71" height="30.5" fill="#8071ae"/>
<rect x="1001.48" y="887.1" width="78.71" height="30.5" fill="#5e3795"/>
<rect x="1079.59" y="887.1" width="78.71" height="30.5" fill="#3a1f63"/>
<polygon fill="none" stroke="#000" stroke-width="2" stroke-linejoin="miter" points="173.9,902.6 221.9,887.1 1160.7,887.1 1207.1,902.6 1158.7,917.6 221.4,917.6"/>
<line x1="222.2" y1="917.6" x2="222.2" y2="928.6" stroke="#000" stroke-width="2.2"/>
<text x="220.7" y="962.9" text-anchor="middle" font-size="30"  fill="#1a1a1a" textLength="69.5" lengthAdjust="spacingAndGlyphs">−3.0</text>
<line x1="300.3" y1="917.6" x2="300.3" y2="928.6" stroke="#000" stroke-width="2.2"/>
<text x="298.8" y="962.9" text-anchor="middle" font-size="30"  fill="#1a1a1a" textLength="69.5" lengthAdjust="spacingAndGlyphs">−2.5</text>
<line x1="378.3" y1="917.6" x2="378.3" y2="928.6" stroke="#000" stroke-width="2.2"/>
<text x="376.8" y="962.9" text-anchor="middle" font-size="30"  fill="#1a1a1a" textLength="69.5" lengthAdjust="spacingAndGlyphs">−2.0</text>
<line x1="456.4" y1="917.6" x2="456.4" y2="928.6" stroke="#000" stroke-width="2.2"/>
<text x="454.9" y="962.9" text-anchor="middle" font-size="30"  fill="#1a1a1a" textLength="69.5" lengthAdjust="spacingAndGlyphs">−1.5</text>
<line x1="534.5" y1="917.6" x2="534.5" y2="928.6" stroke="#000" stroke-width="2.2"/>
<text x="533.0" y="962.9" text-anchor="middle" font-size="30"  fill="#1a1a1a" textLength="69.5" lengthAdjust="spacingAndGlyphs">−1.0</text>
<line x1="612.5" y1="917.6" x2="612.5" y2="928.6" stroke="#000" stroke-width="2.2"/>
<text x="611.0" y="962.9" text-anchor="middle" font-size="30"  fill="#1a1a1a" textLength="69.5" lengthAdjust="spacingAndGlyphs">−0.5</text>
<line x1="690.6" y1="917.6" x2="690.6" y2="928.6" stroke="#000" stroke-width="2.2"/>
<text x="689.1" y="962.9" text-anchor="middle" font-size="30"  fill="#1a1a1a" textLength="45" lengthAdjust="spacingAndGlyphs">0.0</text>
<line x1="768.7" y1="917.6" x2="768.7" y2="928.6" stroke="#000" stroke-width="2.2"/>
<text x="767.2" y="962.9" text-anchor="middle" font-size="30"  fill="#1a1a1a" textLength="45" lengthAdjust="spacingAndGlyphs">0.5</text>
<line x1="846.7" y1="917.6" x2="846.7" y2="928.6" stroke="#000" stroke-width="2.2"/>
<text x="845.2" y="962.9" text-anchor="middle" font-size="30"  fill="#1a1a1a" textLength="45" lengthAdjust="spacingAndGlyphs">1.0</text>
<line x1="924.8" y1="917.6" x2="924.8" y2="928.6" stroke="#000" stroke-width="2.2"/>
<text x="923.3" y="962.9" text-anchor="middle" font-size="30"  fill="#1a1a1a" textLength="45" lengthAdjust="spacingAndGlyphs">1.5</text>
<line x1="1002.9" y1="917.6" x2="1002.9" y2="928.6" stroke="#000" stroke-width="2.2"/>
<text x="1001.4" y="962.9" text-anchor="middle" font-size="30"  fill="#1a1a1a" textLength="45" lengthAdjust="spacingAndGlyphs">2.0</text>
<line x1="1080.9" y1="917.6" x2="1080.9" y2="928.6" stroke="#000" stroke-width="2.2"/>
<text x="1079.4" y="962.9" text-anchor="middle" font-size="30"  fill="#1a1a1a" textLength="45" lengthAdjust="spacingAndGlyphs">2.5</text>
<line x1="1159.0" y1="917.6" x2="1159.0" y2="928.6" stroke="#000" stroke-width="2.2"/>
<text x="1157.5" y="962.9" text-anchor="middle" font-size="30"  fill="#1a1a1a" textLength="45" lengthAdjust="spacingAndGlyphs">3.0</text>
<text x="346.6" y="1008" font-size="30"  fill="#1a1a1a" textLength="682.5" lengthAdjust="spacingAndGlyphs">June-July-August zonal mean windspeed (m/s)</text>
</svg></body></html>
